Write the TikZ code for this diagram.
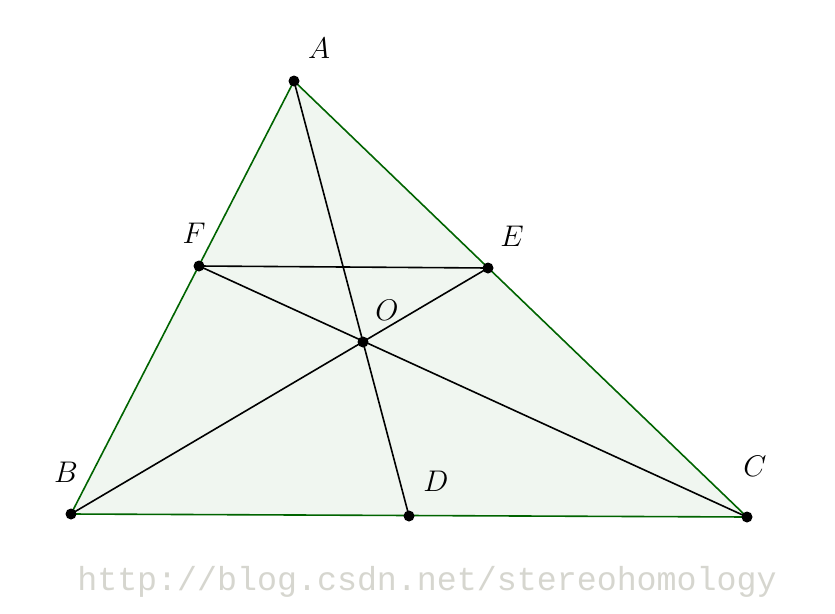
\documentclass[tikz,border=0pt]{standalone}
\usepackage{graphicx}
\usepackage{fontspec}
\setmonofont{Liberation Mono}
\begin{document}
\begin{tikzpicture}[x=1pt,y=-1pt,
  pt/.style={circle,fill=black,inner sep=0pt,minimum size=11pt},
  lbl/.style={font=\fontsize{24.88}{30}\selectfont},
  seg/.style={line width=1.6pt,black},
  side/.style={line width=1.6pt,draw=edgegreen}]
\definecolor{edgegreen}{RGB}{0,100,0}
\definecolor{fillgreen}{RGB}{240,246,240}
\definecolor{wm}{RGB}{214,214,207}
\useasboundingbox (0,0) rectangle (835,613);
\fill[white] (0,0) rectangle (835,613);
\coordinate (A) at (294,81);
\coordinate (B) at (71,514);
\coordinate (C) at (747,517);
\coordinate (D) at (409,516);
\coordinate (E) at (488,268);
\coordinate (F) at (199,266);
\coordinate (O) at (363,342);
\fill[fillgreen] (A) -- (B) -- (C) -- cycle;
\draw[side] (A) -- (B) -- (C) -- cycle;
\draw[seg] (A) -- (D);
\draw[seg] (B) -- (E);
\draw[seg] (C) -- (F);
\draw[seg] (F) -- (E);
\foreach \p in {A,B,C,D,E,F,O} \node[pt] (n\p) at (\p) {};
\node[lbl] (lA) at (319,48) {\scalebox{1.2}{$A$}};
\node[lbl] (lB) at (66,472) {\scalebox{1.2}{$B$}};
\node[lbl] (lC) at (755,466) {\scalebox{1.2}{$C$}};
\node[lbl] (lD) at (436,481) {\scalebox{1.2}{$D$}};
\node[lbl] (lE) at (512,236) {\scalebox{1.2}{$E$}};
\node[lbl] (lF) at (194,233) {\scalebox{1.2}{$F$}};
\node[lbl] (lO) at (387,310) {\scalebox{1.2}{$O$}};
\node[text=wm,font=\ttfamily\fontsize{33.3}{36}\selectfont] (wmk) at (427,582) {http://blog.csdn.net/stereohomology};
\end{tikzpicture}
\end{document}
